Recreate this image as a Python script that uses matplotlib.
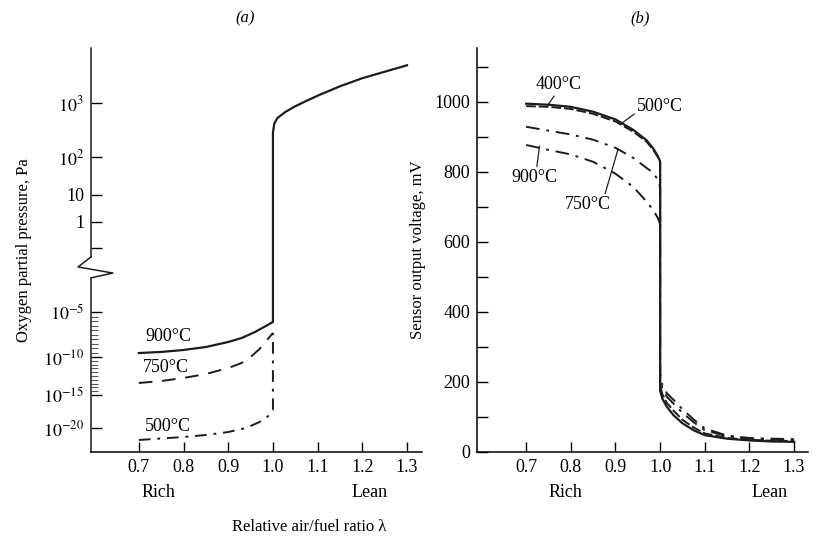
import numpy as np
import matplotlib
matplotlib.use("Agg")
import matplotlib.pyplot as plt

plt.rcParams['font.family'] = ['Liberation Serif', 'DejaVu Serif']
plt.rcParams['mathtext.fontset'] = 'stix'

# ---- panel (a): oxygen partial pressure, log10(Pa) ----
lam_900a = [0.7, 0.75, 0.8, 0.85, 0.9, 0.93, 0.96, 0.98, 1.0,
            1.0, 1.003, 1.01, 1.027, 1.05, 1.075, 1.104, 1.15, 1.2, 1.25, 1.3]
log_900a = [-9.56, -9.44, -9.22, -8.89, -8.33, -7.89, -7.22, -6.67, -6.11,
            2.45, 2.62, 2.72, 2.83, 2.94, 3.04, 3.15, 3.31, 3.46, 3.58, 3.70]
lam_750a = [0.7, 0.75, 0.8, 0.85, 0.9, 0.93, 0.95, 0.97, 0.985, 1.0]
log_750a = [-13.42, -13.16, -12.76, -12.24, -11.45, -10.79, -10.0, -9.11, -8.22, -7.33]
lam_500a = [0.7, 0.8, 0.85, 0.9, 0.94, 0.97, 0.99, 1.0, 1.0]
log_500a = [-21.8, -21.35, -21.05, -20.6, -20.0, -19.09, -18.18, -17.27, -7.33]

# schematic (broken) axis of the original: decade -> drawn height
axis_logs = [-23.6, -20, -15, -10, -5, -1, 0, 1, 2, 3, 4.02]
axis_h = [0, 24, 57, 95, 140, 204, 230, 257, 295, 349, 404]
ytick_logs = [-20, -15, -10, -5, -1, 0, 1, 2, 3]
ytick_labels = [r'$10^{-20}$', r'$10^{-15}$', r'$10^{-10}$', r'$10^{-5}$', '',
                '1', '10', r'$10^{2}$', r'$10^{3}$']

# ---- panel (b): sensor output voltage, mV ----
lam_b = [0.7, 0.75, 0.8, 0.85, 0.9, 0.94, 0.97, 0.985, 0.995, 1.0,
         1.0, 1.005, 1.015, 1.03, 1.05, 1.075, 1.1, 1.15, 1.2, 1.25, 1.3]
v400 = [995, 992, 986, 972, 950, 920, 890, 866, 845, 830,
        175, 152, 129, 105, 82, 62, 48, 38, 33, 30, 29]
v500 = [988, 986, 980, 966, 944, 915, 886, 862, 842, 826,
        190, 165, 140, 118, 92, 70, 53, 40, 35, 32, 31]
v750 = [929, 918, 907, 892, 869, 840, 811, 797, 777, 755,
        210, 180, 158, 138, 112, 85, 62, 45, 38, 35, 34]
v900 = [877, 863, 850, 829, 795, 757, 715, 690, 668, 650,
        225, 190, 168, 149, 122, 93, 67, 47, 40, 38, 37]

xticks = [0.7, 0.8, 0.9, 1.0, 1.1, 1.2, 1.3]
ink = '#1c1c1c'
fs = 13


def fwd(y):
    return np.interp(y, axis_logs, axis_h)


def inv(h):
    return np.interp(h, axis_h, axis_logs)


fig = plt.figure(figsize=(8.16, 5.47), dpi=100)
ax1 = fig.add_axes([91 / 816, 95 / 547, 331 / 816, 404 / 547])
ax2 = fig.add_axes([477 / 816, 95 / 547, 331 / 816, 404 / 547])

# panel (a)
ax1.set_yscale('function', functions=(fwd, inv))
ax1.plot(lam_900a, log_900a, color=ink, lw=1.6, solid_joinstyle='round')
ax1.plot(lam_750a, log_750a, color=ink, lw=1.4, dashes=(7, 5))
ax1.plot(lam_500a, log_500a, color=ink, lw=1.4, dashes=(6, 3.5, 1.5, 3.5))
ax1.set_xlim(0.593, 1.3335)
ax1.set_ylim(-23.6, 4.02)
ax1.set_yticks(ytick_logs)
ax1.set_yticklabels(ytick_labels)
ax1.set_yticks(np.arange(-15, -5, 0.5), minor=True)
ax1.tick_params(axis='y', which='minor', direction='in', length=5, width=0.8, color='#555555')
ax1.set_ylabel('Oxygen partial pressure, Pa', fontsize=12, labelpad=8)

ax1.text(0.765, -7.75, '900°C', fontsize=fs, ha='center', va='center')
ax1.text(0.76, -11.4, '750°C', fontsize=fs, ha='center', va='center')
ax1.text(0.765, -19.8, '500°C', fontsize=fs, ha='center', va='center')

# broken left spine with zigzag
ax1.spines['left'].set_visible(False)
brk = dict(transform=ax1.transAxes, clip_on=False, color=ink, lw=1.1)
ax1.plot([0, 0], [0, 0.431], **brk)
ax1.plot([0, 0], [0.483, 1.0], **brk)
ax1.plot([0, -0.039, 0.066, 0], [0.483, 0.458, 0.443, 0.431], **brk)

# panel (b)
ax2.plot(lam_b, v400, color=ink, lw=1.6)
ax2.plot(lam_b, v500, color=ink, lw=1.4, dashes=(5, 1.5))
ax2.plot(lam_b, v750, color=ink, lw=1.4, dashes=(7, 3.5, 1.5, 3.5))
ax2.plot(lam_b, v900, color=ink, lw=1.4, dashes=(7, 3.5, 1.5, 3.5))
ax2.set_xlim(0.59, 1.331)
ax2.set_ylim(0, 1154)
ax2.set_yticks(range(0, 1101, 100))
ax2.set_yticklabels([str(v) if v % 200 == 0 and v <= 1000 else '' for v in range(0, 1101, 100)])
ax2.set_ylabel('Sensor output voltage, mV', fontsize=12, labelpad=6)

lead = dict(arrowstyle='-', color=ink, lw=0.9, shrinkA=0, shrinkB=0)
ax2.annotate('400°C', xy=(0.749, 992), xytext=(0.772, 1049), fontsize=fs,
             ha='center', va='center', arrowprops=dict(relpos=(0.45, 0), **lead))
ax2.annotate('500°C', xy=(0.915, 940), xytext=(1.0, 986), fontsize=fs,
             ha='center', va='center', arrowprops=dict(relpos=(0.0, 0.2), **lead))
ax2.annotate('900°C', xy=(0.73, 874), xytext=(0.718, 783), fontsize=fs,
             ha='center', va='center', arrowprops=dict(relpos=(0.55, 1), **lead))
ax2.annotate('750°C', xy=(0.906, 866), xytext=(0.839, 706), fontsize=fs,
             ha='center', va='center', arrowprops=dict(relpos=(0.85, 1), **lead))

for ax, rich_x, lean_x in [(ax1, 0.743, 1.217), (ax2, 0.787, 1.246)]:
    ax.spines['top'].set_visible(False)
    ax.spines['right'].set_visible(False)
    ax.spines['bottom'].set_linewidth(1.1)
    ax.spines['left'].set_linewidth(1.1)
    ax.set_xticks(xticks)
    ax.set_xticklabels([f'{t:.1f}' for t in xticks])
    ax.tick_params(which='major', direction='in', length=7, width=1.0,
                   labelsize=fs, pad=5)
    ax.tick_params(axis='y', which='major', length=8)
    tr = ax.get_xaxis_transform()
    ax.text(rich_x, -0.1, 'Rich', transform=tr, fontsize=fs, ha='center', va='center')
    ax.text(lean_x, -0.1, 'Lean', transform=tr, fontsize=fs, ha='center', va='center')

fig.text(245 / 816, 1 - 18 / 547, '(a)', fontsize=12, style='italic', ha='center', va='center')
fig.text(640 / 816, 1 - 18 / 547, '(b)', fontsize=12, style='italic', ha='center', va='center')
fig.text(309 / 816, 1 - 527 / 547, 'Relative air/fuel ratio λ', fontsize=12,
         ha='center', va='center')

fig.savefig('out.png', dpi=100)
